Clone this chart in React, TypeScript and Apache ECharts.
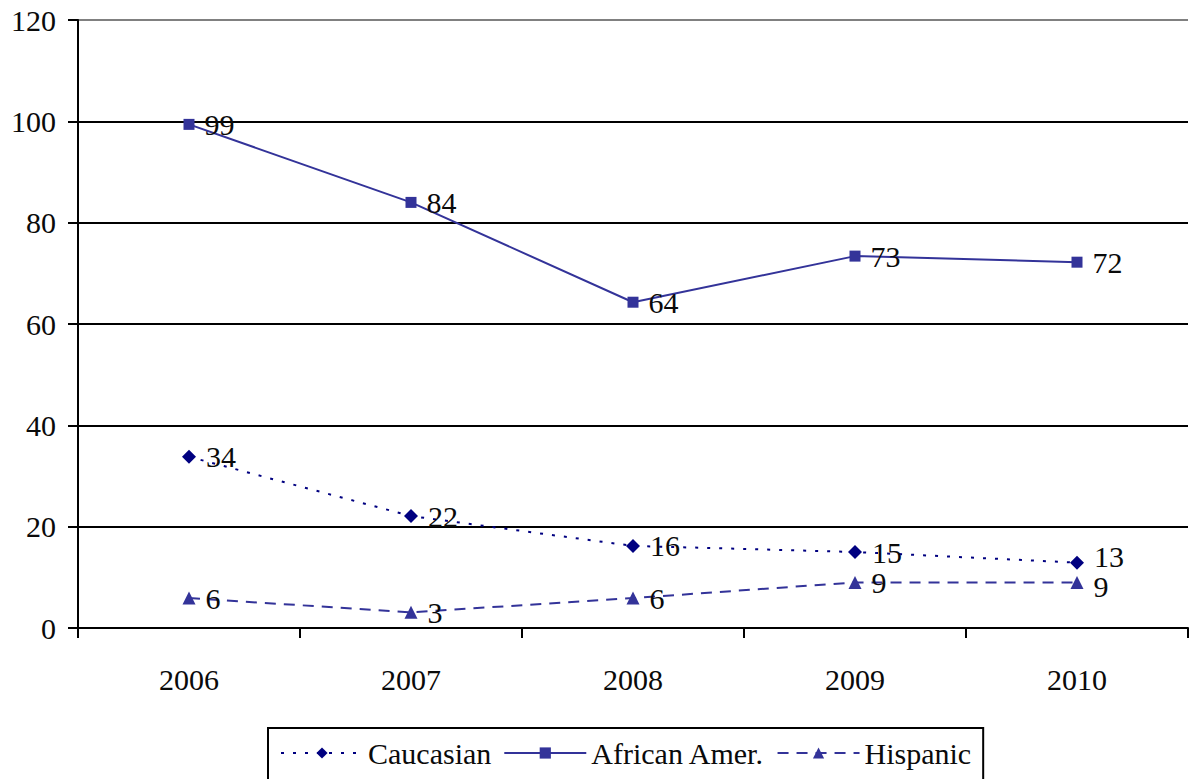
import React, { useEffect, useRef } from "react";
import * as echarts from "echarts";

const years = ["2006", "2007", "2008", "2009", "2010"];
const caucasian = [33.8, 22.1, 16.2, 15.0, 12.9];
const africanAmer = [99.4, 84.0, 64.3, 73.4, 72.2];
const hispanic = [5.9, 3.1, 5.9, 9.0, 9.0];
const seriesNames = ["Caucasian", "African Amer.", "Hispanic"];

const FONT = "Liberation Serif";
const FS = 30;
const INK = "#0a0a0a";

export default function App() {
  const ref = useRef<HTMLDivElement>(null);
  useEffect(() => {
    if (!ref.current) return;
    const chart = echarts.init(ref.current, undefined, { renderer: "svg" });
    const label = {
      show: true,
      position: "right" as const,
      distance: 10,
      fontSize: FS,
      fontFamily: FONT,
      color: INK,
      formatter: (p: any) => String(Math.round(p.value)),
    };
    const caucData = caucasian.map((v, i) =>
      i === caucasian.length - 1 ? { value: v, label: { offset: [0, -6] } } : v
    );
    const hispData = hispanic.map((v, i) =>
      i === hispanic.length - 1 ? { value: v, label: { offset: [0, 4] } } : v
    );
    chart.setOption({
      animation: false,
      textStyle: { fontFamily: "serif" },
      grid: { left: 78, right: 2, top: 20, bottom: 151 },
      legend: {
        data: seriesNames,
        left: 268,
        top: 728,
        padding: [10, 12, 14, 12],
        borderColor: "#000",
        borderWidth: 2,
        itemWidth: 82,
        itemHeight: 14,
        itemGap: 12,
        textStyle: { fontSize: FS, fontFamily: FONT, color: INK },
      },
      xAxis: {
        type: "category",
        data: years,
        boundaryGap: true,
        axisLine: { lineStyle: { color: "#000", width: 2 } },
        axisTick: { show: true, length: 10, lineStyle: { color: "#000", width: 2 } },
        axisLabel: { fontSize: FS, fontFamily: FONT, color: INK, margin: 36 },
      },
      yAxis: {
        type: "value",
        min: 0,
        max: 120,
        interval: 20,
        axisLine: { show: true, lineStyle: { color: "#000", width: 2 } },
        axisTick: { show: true, length: 10, lineStyle: { color: "#000", width: 2 } },
        axisLabel: { fontSize: FS, fontFamily: FONT, color: INK, margin: 22 },
        splitLine: {
          show: true,
          lineStyle: {
            color: ["#000", "#000", "#000", "#000", "#000", "#000", "#808080"],
            width: 2,
          },
        },
      },
      series: [
        {
          name: seriesNames[0],
          type: "line",
          data: caucData,
          symbol: "diamond",
          symbolSize: 14,
          color: "#000080",
          lineStyle: { color: "#000080", width: 2, type: [3, 9] },
          itemStyle: { color: "#000080" },
          label,
        },
        {
          name: seriesNames[1],
          type: "line",
          data: africanAmer,
          symbol: "rect",
          symbolSize: 11,
          color: "#333399",
          lineStyle: { color: "#333399", width: 2, type: "solid" },
          itemStyle: { color: "#333399" },
          label,
        },
        {
          name: seriesNames[2],
          type: "line",
          data: hispData,
          symbol: "triangle",
          symbolSize: 13,
          color: "#333399",
          lineStyle: { color: "#333399", width: 2, type: [11, 8] },
          itemStyle: { color: "#333399" },
          label,
        },
      ],
    });
    return () => chart.dispose();
  }, []);
  return (
    <div
      ref={ref}
      style={{ position: "fixed", left: 0, top: 0, width: 1190, height: 779, background: "#fff" }}
    />
  );
}
